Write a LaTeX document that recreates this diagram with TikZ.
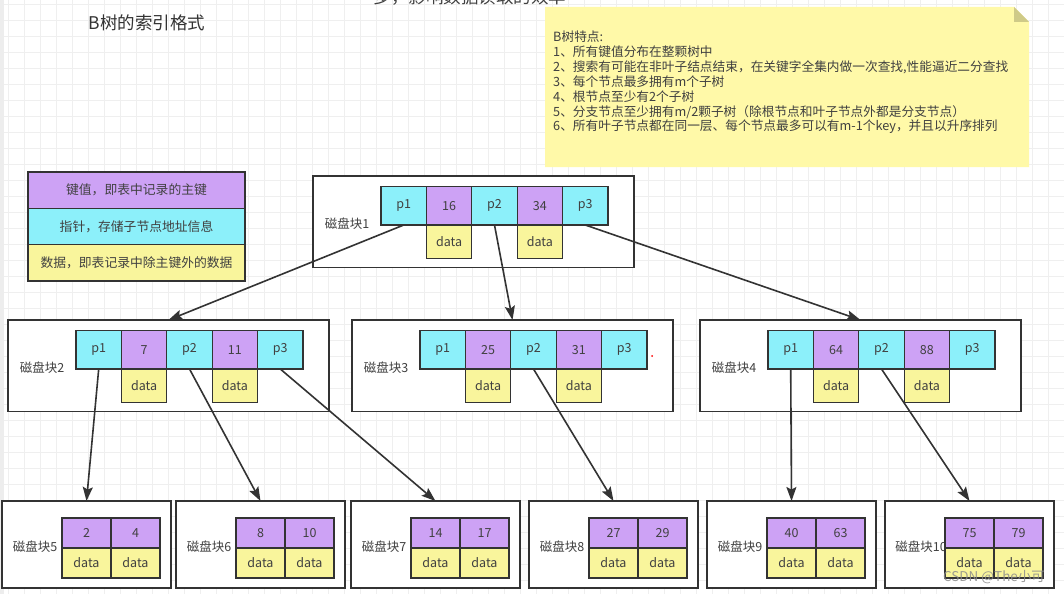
\documentclass[tikz,border=0pt]{standalone}
\usepackage{fontspec}
\newfontfamily\cjk{Noto Sans CJK SC}
\usetikzlibrary{arrows.meta}
\definecolor{kpurple}{HTML}{CDA2F5}
\definecolor{pcyan}{HTML}{8CF0FA}
\definecolor{dyellow}{HTML}{F9F59C}
\definecolor{noteyellow}{HTML}{FFF9A8}
\definecolor{notefold}{HTML}{CFCA88}
\definecolor{ink}{HTML}{333333}
\definecolor{txt}{HTML}{404040}
\definecolor{gridc}{HTML}{EFEFEF}
\tikzset{
  cellbase/.style={draw=ink, line width=1.2pt, outer sep=0pt, inner sep=0pt, text=txt, font=\cjk\fontsize{12.5pt}{15pt}\selectfont},
  pcell/.style={cellbase, fill=pcyan, minimum width=45.4pt, minimum height=38.5pt},
  kcell/.style={cellbase, fill=kpurple, minimum width=45.4pt, minimum height=38.5pt},
  dcell/.style={cellbase, fill=dyellow, minimum width=45.4pt, minimum height=33.5pt},
  lkcell/.style={cellbase, fill=kpurple, minimum width=49pt, minimum height=30pt},
  ldcell/.style={cellbase, fill=dyellow, minimum width=49pt, minimum height=30pt},
  blk/.style={draw=ink, line width=1.5pt, fill=white, inner sep=0pt, outer sep=0pt},
  blabel/.style={text=txt, inner sep=0pt, font=\cjk\fontsize{12.5pt}{15pt}\selectfont},
  link/.style={draw=ink, line width=1.6pt, -{Stealth[length=14pt,width=10pt,inset=2.5pt]}},
  legendbox/.style={draw=ink, line width=1.5pt, minimum width=217pt, minimum height=36.3pt, outer sep=0pt, inner sep=0pt, text=txt, font=\cjk\fontsize{12.8pt}{15pt}\selectfont},
  notetext/.style={text=txt, inner sep=0pt, anchor=west, font=\cjk\fontsize{12.7pt}{15pt}\selectfont},
  gridline/.style={draw=gridc, line width=0.6pt},
}
\newcommand{\innerblk}[6]{%
  \node[blk, anchor=north west, minimum width=321pt, minimum height=91.5pt] (#1) at (#2,#3) {};
  \node[blabel] (#1lab) at (#2+34,#3+48) {#4};
  \node[pcell, anchor=north west] (#1p1) at (#2+68,#3+10.5) {p1};
  \node[kcell, anchor=north west] (#1k1) at (#1p1.north east) {#5};
  \node[pcell, anchor=north west] (#1p2) at (#1k1.north east) {p2};
  \node[kcell, anchor=north west] (#1k2) at (#1p2.north east) {#6};
  \node[pcell, anchor=north west] (#1p3) at (#1k2.north east) {p3};
  \node[dcell, anchor=north] (#1d1) at (#1k1.south) {data};
  \node[dcell, anchor=north] (#1d2) at (#1k2.south) {data};
}
\newcommand{\leafblk}[7]{%
  \node[blk, anchor=north west, minimum width=169pt, minimum height=87pt] (#1) at (#2,#3) {};
  \node[blabel] (#1lab) at (#2+#7,#3+46) {#4};
  \node[lkcell, anchor=north west] (#1k1) at (#2+60,#3+17) {#5};
  \node[lkcell, anchor=north west] (#1k2) at (#1k1.north east) {#6};
  \node[ldcell, anchor=north] (#1d1) at (#1k1.south) {data};
  \node[ldcell, anchor=north] (#1d2) at (#1k2.south) {data};
}
\begin{document}
\begin{tikzpicture}[x=1pt, y=-1pt]
\useasboundingbox (0,0) rectangle (1064,594);
\clip (0,0) rectangle (1064,594);
\fill[white] (0,0) rectangle (1064,594);
% faint grid
\foreach \gx in {8,24,...,1064} \draw[gridline] (\gx,0) -- (\gx,594);
\foreach \gy in {4,20,...,594} \draw[gridline] (0,\gy) -- (1064,\gy);
\fill[black!7] (0,0) rectangle (4,594);
% titles (the upper one is cut off by the top edge, as in the reference)
\node[text=txt, font=\cjk\fontsize{17.5pt}{20pt}\selectfont] (toptext) at (470,-3) {多，影响数据读取的效率};
\node[text=ink, font=\cjk\fontsize{17.5pt}{20pt}\selectfont] (title) at (147,23) {B树的索引格式};
% note
\fill[noteyellow] (545,7) -- (1014,7) -- (1029,22) -- (1029,167) -- (545,167) -- cycle;
\fill[notefold] (1014,7) -- (1014,22) -- (1029,22) -- cycle;
\node[notetext] (nt0) at (553,37) {B树特点:};
\node[notetext] (nt1) at (553,52) {1、所有键值分布在整颗树中};
\node[notetext] (nt2) at (553,67) {2、搜索有可能在非叶子结点结束，在关键字全集内做一次查找,性能逼近二分查找};
\node[notetext] (nt3) at (553,82) {3、每个节点最多拥有m个子树};
\node[notetext] (nt4) at (553,97) {4、根节点至少有2个子树};
\node[notetext] (nt5) at (553,112) {5、分支节点至少拥有m/2颗子树（除根节点和叶子节点外都是分支节点）};
\node[notetext] (nt6) at (553,127) {6、所有叶子节点都在同一层、每个节点最多可以有m-1个key，并且以升序排列};
% legend
\node[legendbox, fill=kpurple, anchor=north west] (lg1) at (28,172) {键值，即表中记录的主键};
\node[legendbox, fill=pcyan, anchor=north] (lg2) at (lg1.south) {指针，存储子节点地址信息};
\node[legendbox, fill=dyellow, anchor=north] (lg3) at (lg2.south) {数据，即表记录中除主键外的数据};
% blocks
\innerblk{b1}{313}{176}{磁盘块1}{16}{34}
\innerblk{b2}{8}{320}{磁盘块2}{7}{11}
\innerblk{b3}{352}{320}{磁盘块3}{25}{31}
\innerblk{b4}{700}{320}{磁盘块4}{64}{88}
\leafblk{b5}{2}{501}{磁盘块5}{2}{4}{33}
\leafblk{b6}{176}{501}{磁盘块6}{8}{10}{33}
\leafblk{b7}{351}{501}{磁盘块7}{14}{17}{33}
\leafblk{b8}{529}{501}{磁盘块8}{27}{29}{33}
\leafblk{b9}{707}{501}{磁盘块9}{40}{63}{33}
\leafblk{b10}{885}{501}{磁盘块10}{75}{79}{36}
\fill[red] (652,356) circle (1pt);
% links
\draw[link] (b1p1.south) -- (b2.north);
\draw[link] (b1p2.south) -- (b3.north);
\draw[link] (b1p3.south) -- (b4.north);
\draw[link] (b2p1.south) -- (b5.north);
\draw[link] (b2p2.south) -- (b6.north);
\draw[link] (b2p3.south) -- (b7.north);
\draw[link] (b3p2.south) -- (b8.north);
\draw[link] (b4p1.south) -- (b9.north);
\draw[link] (b4p2.south) -- (b10.north);
% watermark
\node[text=black!45, opacity=0.85, font=\cjk\fontsize{13.5pt}{15pt}\selectfont] (wm) at (994,577) {CSDN @The小可};
\end{tikzpicture}
\end{document}
